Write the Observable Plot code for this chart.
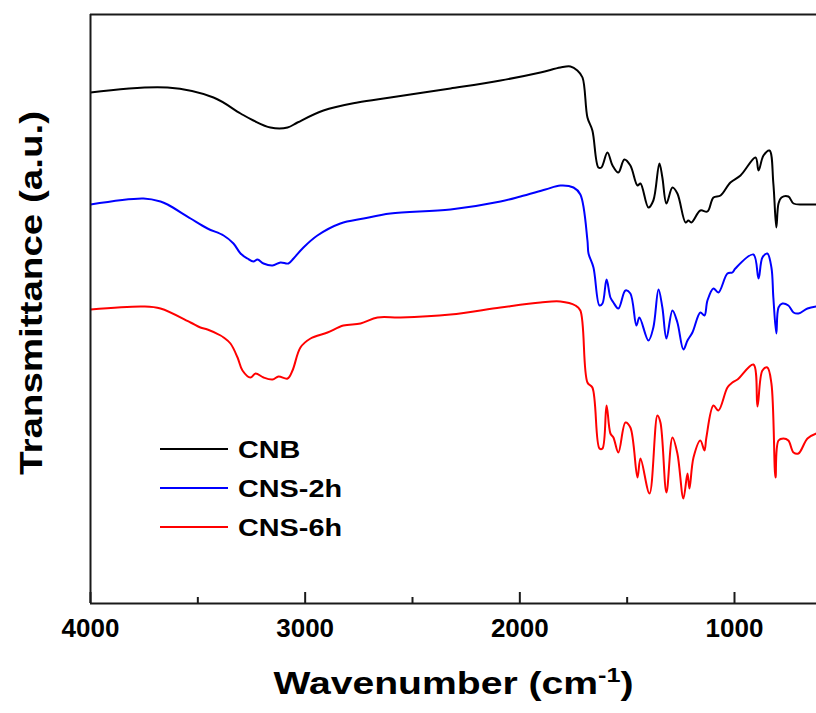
<!DOCTYPE html>
<html><head><meta charset="utf-8">
<script src="https://cdn.jsdelivr.net/npm/d3@7"></script>
<script src="https://cdn.jsdelivr.net/npm/@observablehq/plot@0.6"></script>
<style>
body{margin:0;background:#fff;}
svg{display:block;font-family:"Liberation Sans",Arial,Helvetica,sans-serif;}
</style>
</head><body><div id="chart"></div>
<script>
// Series names and colours
const seriesNames = ["CNB", "CNS-2h", "CNS-6h"];
const seriesColors = ["#000000", "#0000ff", "#ff0000"];

// CNB (wavenumber in cm-1, transmittance in a.u.)
const cnbWave = [4000,3641,3427,3301,3241,3162,3082,3036,2915,2756,2603,2323,2090,1904,1811,1764,1732,1708,1685,1662,1634,1620,1592,1568,1541,1513,1485,1452,1438,1401,1378,1350,1336,1317,1289,1266,1228,1215,1201,1159,1126,1098,1065,1019,972,902,888,865,837,819,805,795,781,749,725,679,618];
const cnbT    = [511,516,506,490,483,476,476,481,493,501,506,515,523,531,536,537,533,526,486,473,436,436,451,438,431,444,438,418,420,396,403,440,426,400,416,410,381,383,381,393,392,406,408,421,428,446,433,448,453,420,376,400,406,407,400,399,399];

// CNS-2h
const cns2Wave = [4000,3753,3674,3641,3534,3455,3380,3334,3301,3269,3241,3222,3194,3152,3115,3078,3054,3008,2943,2836,2728,2603,2323,2090,1997,1881,1811,1750,1718,1685,1680,1657,1629,1615,1596,1578,1564,1541,1508,1485,1457,1443,1401,1378,1354,1336,1317,1289,1266,1238,1219,1196,1159,1140,1126,1098,1075,1033,1010,996,912,888,870,847,828,819,805,795,777,749,725,702,660,618];
const cns2T    = [399,405,402,399,385,375,368,360,350,345,342,344,340,338,341,340,345,356,368,380,385,390,394,402,407,414,418,416,409,363,350,336,298,300,324,306,301,295,313,310,278,286,263,276,314,296,265,293,281,254,263,271,291,288,303,315,311,330,331,335,349,325,346,350,336,306,270,296,300,298,291,290,295,297];

// CNS-6h
const cns6Wave = [4000,3753,3674,3534,3488,3455,3394,3380,3348,3315,3292,3255,3231,3194,3152,3124,3082,3059,3022,2975,2896,2822,2742,2663,2556,2323,2090,1904,1811,1741,1718,1685,1662,1629,1615,1596,1578,1564,1541,1508,1485,1452,1438,1396,1359,1345,1317,1289,1266,1238,1219,1210,1191,1159,1140,1131,1098,1075,1033,1010,986,912,893,870,847,828,809,795,772,749,725,702,660,618];
const cns6T    = [294,297,295,281,276,274,268,266,260,246,233,226,230,226,224,227,225,233,256,265,271,278,280,286,286,289,296,301,302,298,293,221,216,155,155,198,170,166,151,181,176,126,145,110,188,181,111,166,150,105,130,115,146,163,153,166,198,193,216,221,224,239,197,233,236,220,126,163,165,163,151,150,165,170];

// Axis ticks and domains
const majorTicks = [4000, 3000, 2000, 1000];
const minorTicks = [3500, 2500, 1500];
const xDomain = [4000, 618];
const yDomain = [0, 589];

const waves = [cnbWave, cns2Wave, cns6Wave];
const trans = [cnbT, cns2T, cns6T];
const rows = seriesNames.flatMap((s, i) => waves[i].map((w, j) => ({s, w, t: trans[i][j]})));

const chart = Plot.plot({
  width: 816, height: 713,
  marginTop: 14, marginBottom: 110, marginLeft: 90, marginRight: 0,
  x: {domain: xDomain},
  y: {domain: yDomain, axis: null},
  color: {domain: seriesNames, range: seriesColors},
  style: {fontFamily: '"Liberation Sans", Arial, sans-serif', background: "#fff", color: "#000"},
  marks: [
    Plot.line(rows, {x: "w", y: "t", z: "s", stroke: "s", strokeWidth: 2, curve: "catmull-rom", clip: true}),
    Plot.axisX(majorTicks, {tickSize: 0, tickPadding: 15, fontSize: 26, fontWeight: "bold", label: null, fill: "#000", tickFormat: d => String(d)}),
    Plot.tickX(majorTicks, {x: d => d, strokeWidth: 2, insetTop: 578, stroke: "#1a1a1a"}),
    Plot.tickX(minorTicks, {x: d => d, strokeWidth: 2, insetTop: 583, stroke: "#1a1a1a"}),
    Plot.ruleX([xDomain[0]], {strokeWidth: 2, stroke: "#1a1a1a"}),
    Plot.ruleY(yDomain, {strokeWidth: 2, stroke: "#1a1a1a"}),
    Plot.text(["Wavenumber (cm-1)"], {frameAnchor: "bottom", dy: 81, fontSize: 31, fontWeight: "bold", lineAnchor: "middle", textAnchor: "middle", fill: "#000"}),
    Plot.text(["Transmittance (a.u.)"], {frameAnchor: "left", dx: -58, dy: -16, rotate: -90, fontSize: 31, fontWeight: "bold", textAnchor: "middle", fill: "#000"})
  ]
});

const svg = d3.select(chart);

// superscript for cm-1
let xTitle = null, yTitle = null;
svg.selectAll("text").each(function() {
  if (this.textContent === "Wavenumber (cm-1)") xTitle = this;
  if (this.textContent === "Transmittance (a.u.)") yTitle = this;
});
if (xTitle) {
  const t = d3.select(xTitle);
  t.text(null);
  t.append("tspan").text("Wavenumber (cm");
  t.append("tspan").attr("dy", -12).attr("font-size", 20).text("-1");
  t.append("tspan").attr("dy", 12).text(")");
}

// legend
const lg = svg.append("g").attr("text-anchor", "start");
const legendTexts = [];
seriesNames.forEach((s, i) => {
  const y = 449 + i * 39;
  lg.append("line").attr("x1", 160).attr("x2", 228).attr("y1", y).attr("y2", y)
    .attr("stroke", seriesColors[i]).attr("stroke-width", 2);
  legendTexts.push(lg.append("text").attr("x", 238).attr("y", y).attr("dy", "0.36em")
    .attr("text-anchor", "start")
    .attr("font-size", 24).attr("font-weight", "bold").attr("fill", "#000").text(s).node());
});

document.getElementById("chart").append(chart);

function stretch(el, len) {
  el.setAttribute("textLength", len);
  el.setAttribute("lengthAdjust", "spacingAndGlyphs");
}
if (xTitle) stretch(xTitle, 360);
if (yTitle) stretch(yTitle, 364);
legendTexts.forEach(el => stretch(el, el.getComputedTextLength() * 1.2));
</script>
</body></html>
